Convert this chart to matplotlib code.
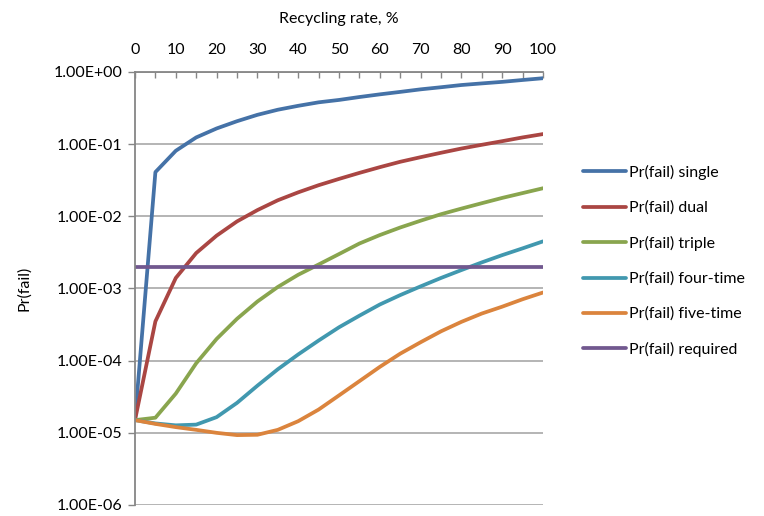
import matplotlib
matplotlib.use("Agg")
import matplotlib.pyplot as plt
from matplotlib.ticker import FixedLocator, FuncFormatter

plt.rcParams['font.family'] = ['Lato', 'DejaVu Sans']

recycling_rate = [0, 5, 10, 15, 20, 25, 30, 35, 40, 45, 50,
                  55, 60, 65, 70, 75, 80, 85, 90, 95, 100]

pr_single = [1.5e-5, 0.041, 0.081, 0.124, 0.165, 0.208, 0.255, 0.30, 0.34, 0.38, 0.41,
             0.45, 0.49, 0.53, 0.575, 0.615, 0.66, 0.695, 0.73, 0.775, 0.82]
pr_dual = [1.5e-5, 3.5e-4, 1.4e-3, 3.1e-3, 5.4e-3, 8.5e-3, 1.22e-2, 1.67e-2, 2.15e-2, 2.7e-2, 3.3e-2,
           4.0e-2, 4.8e-2, 5.7e-2, 6.6e-2, 7.6e-2, 8.7e-2, 9.8e-2, 0.11, 0.124, 0.138]
pr_triple = [1.5e-5, 1.62e-5, 3.5e-5, 9.2e-5, 2.0e-4, 3.8e-4, 6.6e-4, 1.05e-3, 1.55e-3, 2.15e-3, 3.0e-3,
             4.2e-3, 5.5e-3, 7.0e-3, 8.7e-3, 1.07e-2, 1.28e-2, 1.52e-2, 1.8e-2, 2.1e-2, 2.45e-2]
pr_four = [1.5e-5, 1.35e-5, 1.27e-5, 1.3e-5, 1.65e-5, 2.6e-5, 4.5e-5, 7.6e-5, 1.22e-4, 1.9e-4, 2.9e-4,
           4.2e-4, 6.0e-4, 8.1e-4, 1.07e-3, 1.4e-3, 1.8e-3, 2.3e-3, 2.9e-3, 3.6e-3, 4.5e-3]
pr_five = [1.5e-5, 1.33e-5, 1.2e-5, 1.1e-5, 1.0e-5, 9.3e-6, 9.4e-6, 1.1e-5, 1.45e-5, 2.1e-5, 3.3e-5,
           5.2e-5, 8.2e-5, 1.25e-4, 1.8e-4, 2.55e-4, 3.45e-4, 4.5e-4, 5.6e-4, 7.1e-4, 8.8e-4]
pr_required = [2e-3] * len(recycling_rate)

series = [
    ("Pr(fail) single", pr_single, "#4572A7"),
    ("Pr(fail) dual", pr_dual, "#AA4643"),
    ("Pr(fail) triple", pr_triple, "#89A54E"),
    ("Pr(fail) four-time", pr_four, "#4198AF"),
    ("Pr(fail) five-time", pr_five, "#DB843D"),
    ("Pr(fail) required", pr_required, "#71588F"),
]

fig = plt.figure(figsize=(7.64, 5.16), dpi=100)
ax = fig.add_axes([135 / 764, 1 - 505 / 516, 408 / 764, 433 / 516])

for label, values, color in series:
    ax.plot(recycling_rate, values, color=color, lw=2.7, label=label,
            solid_capstyle='round', solid_joinstyle='round')

ax.set_yscale('log')
ax.set_ylim(1e-6, 1)
ax.set_xlim(0, 100)

grid_color = '#A0A0A0'
decades = [10.0 ** k for k in range(-6, 1)]
ax.yaxis.set_major_locator(FixedLocator(decades))
ax.yaxis.set_minor_locator(FixedLocator([]))
ax.yaxis.set_major_formatter(FuncFormatter(lambda v, p: f"{v:.2E}"))
ax.grid(axis='y', color=grid_color, lw=1.1)
ax.set_axisbelow(True)

ax.xaxis.tick_top()
ax.xaxis.set_label_position('top')
ax.set_xticks(recycling_rate)
ax.set_xticklabels([str(r) if r % 10 == 0 else "" for r in recycling_rate])
ax.tick_params(axis='x', direction='in', length=4, color='#868686', width=1,
               labelsize=11.5, pad=11)
ax.tick_params(axis='y', direction='out', length=5, color='#868686', width=1,
               labelsize=11.5, pad=4)

for side in ('right', 'bottom'):
    ax.spines[side].set_visible(False)
for side in ('left', 'top'):
    ax.spines[side].set_color('#868686')
    ax.spines[side].set_linewidth(1.3)

ax.set_xlabel("Recycling rate, %", fontsize=11.5, labelpad=14)
ax.set_ylabel("Pr(fail)", fontsize=11.5, labelpad=16)

fig.legend(loc='upper left', bbox_to_anchor=(583 / 764, 1 - 165 / 516),
           frameon=False, fontsize=11.5, handlelength=2.7, handletextpad=0.2,
           labelspacing=1.3, borderpad=0, borderaxespad=0)

fig.savefig("out.png", dpi=100)
